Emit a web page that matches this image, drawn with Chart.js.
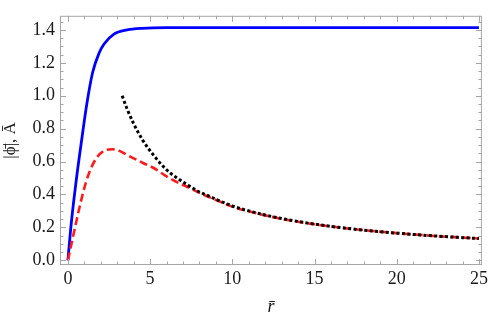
<!DOCTYPE html>
<html>
<head>
<meta charset="utf-8">
<script src="https://cdn.jsdelivr.net/npm/chart.js@4.4.1/dist/chart.umd.min.js"></script>
<style>
html,body{margin:0;padding:0;background:#fff;}
#wrap{width:491px;height:318px;}
</style>
</head>
<body>
<div id="wrap"><canvas id="c" width="491" height="318"></canvas></div>
<script>
// ---- data ----
const xTicks = [0, 5, 10, 15, 20, 25];
const yTicks = [0, 0.2, 0.4, 0.6, 0.8, 1.0, 1.2, 1.4];

const blueR = [0, 0.2, 0.5, 0.85, 1.15, 1.5, 1.9, 2.2, 2.8, 3.6, 4.5, 6, 10, 15, 20, 25];
const blueV = [0, 0.22, 0.48, 0.74, 0.95, 1.14, 1.26, 1.315, 1.375, 1.40, 1.41, 1.414, 1.414, 1.414, 1.414, 1.414];

const redR = [0, 0.25, 0.5, 0.75, 1.0, 1.25, 1.5, 1.8, 2.2, 2.7, 3.14, 3.6, 4.2, 4.6, 5.16, 6.0, 6.57, 7.18, 8.0, 9.09, 10, 11, 12, 13, 14, 15, 16, 18, 20, 22, 25];
const redV = [0, 0.115, 0.23, 0.34, 0.44, 0.52, 0.58, 0.63, 0.665, 0.675, 0.665, 0.64, 0.61, 0.59, 0.564, 0.51, 0.478, 0.45, 0.41, 0.363, 0.326, 0.298, 0.273, 0.252, 0.234, 0.219, 0.205, 0.183, 0.165, 0.15, 0.132];

const blackR = [3.3, 3.6, 4.0, 4.55, 5.16, 6.0, 6.57, 7.18, 8.0, 8.58, 9.09, 10, 11, 12, 13, 14, 15, 16, 18, 20, 22, 25];
const blackV = [1.0, 0.92, 0.83, 0.73, 0.645, 0.55, 0.505, 0.465, 0.415, 0.39, 0.367, 0.33, 0.30, 0.275, 0.254, 0.236, 0.22, 0.206, 0.183, 0.165, 0.15, 0.132];

const toPts = (xs, ys) => xs.map((x, i) => ({x: x, y: ys[i]}));

const FONT = "'Liberation Serif', 'Times New Roman', serif";
const AXIS = '#a6a6a6';

const framePlugin = {
  id: 'frame',
  afterDatasetsDraw(chart) {
    const {ctx, chartArea: a, scales: {x, y}} = chart;
    ctx.save();
    ctx.strokeStyle = AXIS;
    ctx.lineWidth = 1;
    ctx.strokeRect(a.left + 0.5, a.top + 0.5, a.right - a.left - 1, a.bottom - a.top - 1);
    ctx.beginPath();
    for (let v = 0; v <= 25.001; v += 1) {
      const p = Math.round(x.getPixelForValue(v)) + 0.5;
      const L = (Math.abs(v % 5) < 1e-6) ? 6 : 3.5;
      ctx.moveTo(p, a.bottom); ctx.lineTo(p, a.bottom - L);
      ctx.moveTo(p, a.top); ctx.lineTo(p, a.top + L);
    }
    for (let k = 0; k <= 29; k++) {
      const v = k * 0.05;
      const p = Math.round(y.getPixelForValue(v)) + 0.5;
      const L = (k % 4 === 0) ? 6 : 3.5;
      ctx.moveTo(a.left, p); ctx.lineTo(a.left + L, p);
      ctx.moveTo(a.right, p); ctx.lineTo(a.right - L, p);
    }
    ctx.stroke();
    ctx.restore();
  }
};

new Chart(document.getElementById('c'), {
  type: 'line',
  data: {
    datasets: [
      {data: toPts(blackR, blackV), borderColor: '#000000', borderWidth: 3, borderDash: [3, 2.4], borderCapStyle: 'butt', pointRadius: 0, cubicInterpolationMode: 'monotone', order: 0},
      {data: toPts(redR, redV), borderColor: '#ff1a1a', borderWidth: 2.6, borderDash: [8, 4], borderCapStyle: 'butt', pointRadius: 0, cubicInterpolationMode: 'monotone', order: 1},
      {data: toPts(blueR, blueV), borderColor: '#0000ff', borderWidth: 2.8, pointRadius: 0, cubicInterpolationMode: 'monotone', order: 2}
    ]
  },
  options: {
    responsive: false,
    devicePixelRatio: 1,
    animation: false,
    events: [],
    layout: {padding: {top: 1, right: 8, left: 0, bottom: 0}},
    plugins: {legend: {display: false}, tooltip: {enabled: false}},
    scales: {
      x: {
        type: 'linear', min: -0.48, max: 25.18,
        afterBuildTicks: s => { s.ticks = xTicks.map(v => ({value: v})); },
        afterFit: s => { s.height = 53; },
        grid: {display: false, drawTicks: false},
        border: {display: false},
        ticks: {font: {family: FONT, size: 18}, color: '#1a1a1a', padding: 3, maxRotation: 0, autoSkip: false, callback: v => String(v)},
        title: {display: true, text: 'r\u0304', font: {family: FONT, size: 18, style: 'italic'}, color: '#1a1a1a', padding: {top: 2, bottom: 0}}
      },
      y: {
        type: 'linear', min: -0.0287, max: 1.486,
        afterBuildTicks: s => { s.ticks = yTicks.map(v => ({value: v})); },
        afterFit: s => { s.width = 60; },
        grid: {display: false, drawTicks: false},
        border: {display: false},
        ticks: {font: {family: FONT, size: 18}, color: '#1a1a1a', padding: 5, autoSkip: false, callback: v => Number(v).toFixed(1)},
        title: {display: true, text: '|\u03D5\u0304|, \u0100', font: {family: FONT, size: 17}, color: '#1a1a1a', padding: {top: 0, bottom: 2}}
      }
    }
  },
  plugins: [framePlugin]
});
</script>
</body>
</html>
